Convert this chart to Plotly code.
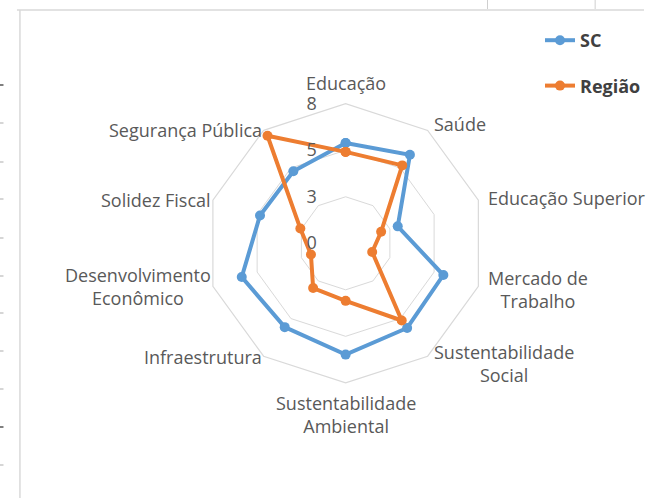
import math
import plotly.graph_objects as go

W, H = 646, 498

categories = [
    "Educação", "Saúde", "Educação Superior", "Mercado de<br>Trabalho",
    "Sustentabilidade<br>Social", "Sustentabilidade<br>Ambiental", "Infraestrutura",
    "Desenvolvimento<br>Econômico", "Solidez Fiscal", "Segurança Pública",
]
sc_values = [5.75, 6.27, 3.14, 5.89, 6.0, 6.38, 5.94, 6.26, 5.16, 5.1]
regiao_values = [5.24, 5.52, 2.14, 1.6, 5.47, 3.3, 3.17, 2.09, 2.73, 7.62]
radial_ticks = [0, 8 / 3, 16 / 3, 8]
radial_labels = ["0", "3", "5", "8"]

BLUE = "#5B9BD5"
ORANGE = "#ED7D31"
TEXT = "#595959"
FONT = "Open Sans"
FSIZE = 18


def closed(seq):
    return list(seq) + [seq[0]]


fig = go.Figure()
for name, vals, color in [("SC", sc_values, BLUE), ("Região", regiao_values, ORANGE)]:
    fig.add_trace(go.Scatterpolar(
        r=closed(vals), theta=closed(categories), name=name, legendgroup=name,
        mode="lines+markers",
        line=dict(color=color, width=4),
        marker=dict(color=color, size=10),
    ))


def px_x(x):
    return x / W


def px_y(y):
    return 1 - y / H


# worksheet frame around the chart object
shapes = []
line_col = "#d9d9d9"
shapes.append(dict(type="line", xref="paper", yref="paper",
                   x0=px_x(20), x1=px_x(20), y0=px_y(10), y1=px_y(H), line=dict(color=line_col, width=1.5)))
shapes.append(dict(type="line", xref="paper", yref="paper",
                   x0=px_x(17), x1=px_x(W), y0=px_y(10), y1=px_y(10), line=dict(color=line_col, width=1.5)))
for xv in (489, 597):
    shapes.append(dict(type="line", xref="paper", yref="paper",
                       x0=px_x(xv), x1=px_x(xv), y0=px_y(0), y1=px_y(9), line=dict(color="#cfcfcf", width=1)))
for yv in (85, 123, 162, 199, 238, 276, 313, 351, 389, 427, 465):
    dark = yv in (85, 427)
    shapes.append(dict(type="line", xref="paper", yref="paper",
                       x0=0, x1=px_x(3.5), y0=px_y(yv), y1=px_y(yv),
                       line=dict(color="#555555" if dark else "#c8c8c8", width=1.5)))

# polar plot geometry (pixels)
cx, cy, R = 346.7, 243.3, 140

# category labels around the decagon, centred multi-line text
annotations = []
n = len(categories)
for i, cat in enumerate(categories):
    th = math.radians(360 * i / n)
    s, c = math.sin(th), math.cos(th)
    if abs(s) < 1e-6:
        off = 6
        xa, ya = "center", ("bottom" if c > 0 else "top")
    else:
        off = 8 if s > 0 else 0
        xa, ya = ("left" if s > 0 else "right"), "middle"
    x = cx + (R + off) * s
    y = cy - (R + off) * c
    annotations.append(dict(
        x=px_x(x), y=px_y(y), xref="paper", yref="paper",
        text=cat, showarrow=False, xanchor=xa, yanchor=ya, align="center",
        font=dict(family=FONT, size=FSIZE, color=TEXT),
    ))

fig.update_layout(
    width=W, height=H,
    margin=dict(l=0, r=0, t=0, b=0),
    paper_bgcolor="white",
    font=dict(family=FONT, color=TEXT, size=FSIZE),
    shapes=shapes,
    annotations=annotations,
    polar=dict(
        domain=dict(x=[px_x(cx - R), px_x(cx + R)], y=[px_y(cy + R), px_y(cy - R)]),
        bgcolor="white",
        gridshape="linear",
        angularaxis=dict(
            direction="clockwise", rotation=90,
            showgrid=False, showline=True, linecolor=line_col, linewidth=1.2,
            ticks="", showticklabels=False,
        ),
        radialaxis=dict(
            range=[0, 8], angle=90, side="counterclockwise", tickangle=90,
            tickvals=radial_ticks, ticktext=radial_labels,
            showline=False, showgrid=True, gridcolor=line_col, gridwidth=1.2,
            ticks="outside", ticklen=22, tickcolor="rgba(0,0,0,0)",
            tickfont=dict(family=FONT, size=FSIZE, color=TEXT),
        ),
    ),
    legend=dict(
        x=px_x(542), y=px_y(22), xanchor="left", yanchor="top",
        traceorder="grouped", tracegroupgap=19,
        font=dict(family=FONT, size=18, color="#404040", weight="bold"),
        bgcolor="rgba(0,0,0,0)",
    ),
)

fig.write_html("out.html")
